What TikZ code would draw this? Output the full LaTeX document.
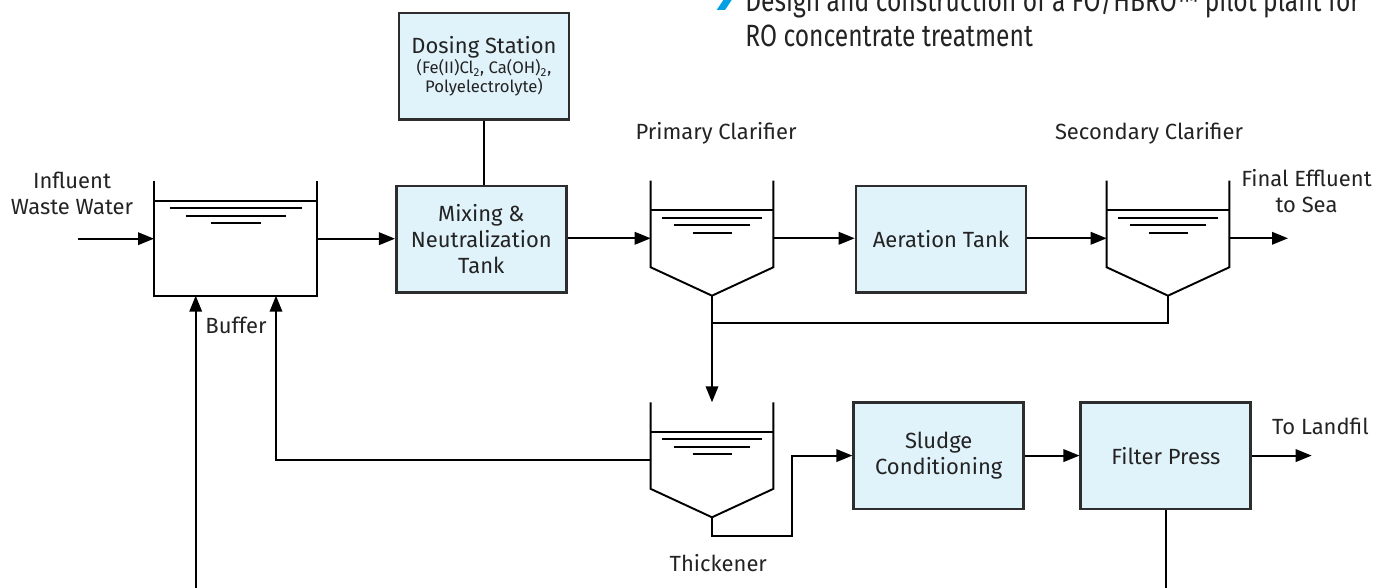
\documentclass[tikz,border=0pt]{standalone}
\usepackage{fontspec}
\setmainfont{Fira Sans}
\newfontfamily\notefamily[FakeStretch=0.8]{Fira Sans}
\usetikzlibrary{positioning,arrows.meta}

\definecolor{boxfill}{RGB}{224,242,250}
\definecolor{boxline}{RGB}{45,45,45}
\definecolor{txt}{RGB}{35,35,35}
\definecolor{bulletblue}{RGB}{0,160,227}

\newcommand{\diagfont}{\fontsize{12.5}{14.8}\selectfont}
\newcommand{\chemfont}{\fontsize{9.5}{11}\selectfont}
\newcommand{\notefont}{\notefamily\fontsize{17.5}{19.9}\selectfont}

\begin{document}
\begin{tikzpicture}[
  unit/.style={rectangle, draw=boxline, line width=1.5pt, fill=boxfill, minimum width=3.4cm, minimum height=2.13cm, align=center, font=\diagfont, text=txt},
  pipe/.style={line width=1.1pt},
  flow/.style={line width=1.1pt, -{Triangle[length=3.2mm,width=2.5mm]}},
  tag/.style={align=center, font=\diagfont, text=txt},
  note/.style={anchor=base west, inner sep=0pt, font=\notefont, text=txt},
  clarifier/.pic={
    \draw[pipe] (-1.226,0) -- (-1.226,-1.732) -- (0,-2.3) -- (1.226,-1.732) -- (1.226,0);
    \draw[pipe] (-1.226,-0.586) -- (1.226,-0.586);
    \draw[pipe] (-0.997,-0.74) -- (0.997,-0.74);
    \draw[pipe] (-0.76,-0.886) -- (0.76,-0.886);
    \draw[pipe] (-0.39,-1.04) -- (0.39,-1.04);
    \coordinate (-top) at (0,0);
    \coordinate (-in) at (-1.226,-1.152);
    \coordinate (-out) at (1.226,-1.152);
    \coordinate (-apex) at (0,-2.3);
  }
]
\useasboundingbox (0,0) rectangle (27.76,11.76);
\clip (0,0) rectangle (27.76,11.76);

% Process units (boxes)
\node[unit] (Dose) at (9.68,10.434) {Dosing Station\\[-3pt]{\chemfont (Fe(II)Cl\textsubscript{2}, Ca(OH)\textsubscript{2},}\\[-4pt]{\chemfont Polyelectrolyte)}};
\node[unit] (Mix) at (9.626,6.974) {Mixing \&\\Neutralization\\Tank};
\node[unit] (Aer) at (18.82,6.974) {Aeration Tank};
\node[unit] (Sludge) at (18.774,2.648) {Sludge\\Conditioning};
\node[unit] (FP) at (23.316,2.648) {Filter Press};

% Buffer tank
\draw[pipe] (3.08,8.146) -- (3.08,5.846) -- (6.334,5.846) -- (6.334,8.146);
\draw[pipe] (3.08,7.746) -- (6.334,7.746);
\draw[pipe] (3.4,7.594) -- (6.04,7.594);
\draw[pipe] (3.72,7.44) -- (5.72,7.44);
\draw[pipe] (4.214,7.294) -- (5.22,7.294);
\coordinate (BF-in) at (3.08,6.986);
\coordinate (BF-out) at (6.334,6.986);
\coordinate (BF-b1) at (3.914,5.846);
\coordinate (BF-b2) at (5.52,5.846);

% Clarifiers and thickener
\pic (PC) at (14.24,8.146) {clarifier};
\pic (SC) at (23.36,8.146) {clarifier};
\pic (TH) at (14.24,3.714) {clarifier};

% Free ends
\coordinate (inlet) at (1.554,6.986);
\coordinate (effluent) at (25.76,6.994);
\coordinate (landfill) at (26.234,2.648);
\coordinate (Jn) at (14.24,5.3);
\coordinate (Tk) at (15.846,1.046);

% Main water line
\draw[flow] (inlet) -- (BF-in);
\draw[flow] (BF-out) -- (BF-out -| Mix.west);
\draw[pipe] (Dose.south) -- (Dose.south |- Mix.north);
\draw[flow] (Mix.east |- PC-in) -- (PC-in);
\draw[flow] (PC-out) -- (PC-out -| Aer.west);
\draw[flow] (Aer.east |- SC-in) -- (SC-in);
\draw[flow] (SC-out) -- (effluent);

% Sludge line
\draw[pipe] (SC-apex) |- (Jn);
\draw[flow] (PC-apex) -- (TH-top);
\draw[flow] (TH-in) -| (BF-b2);
\draw[flow] (TH-apex) |- (Tk) |- (Sludge.west);
\draw[flow] (Sludge) -- (FP);
\draw[flow] (FP) -- (landfill);
\draw[flow] (FP.south) -- ++(0,-2.2) -| (BF-b1);

% Labels
\node[tag] (lbInf) at (1.44,7.9) {Influent\\Waste Water};
\node[tag] (lbPC) at (14.32,9.1) {Primary Clarifier};
\node[tag] (lbSC) at (22.98,9.1) {Secondary Clarifier};
\node[tag] (lbEff) at (26.13,7.948) {Final Effluent\\to Sea};
\node[tag] (lbBuf) at (4.72,5.26) {Buffer};
\node[tag] (lbTh) at (14.366,0.506) {Thickener};
\node[tag] (lbLand) at (26.41,3.226) {To Landfil};

% Page text above the diagram
\fill[bulletblue] (14.334,11.56) -- (14.5,11.56) -- (14.634,11.76) -- (14.5,11.96) -- (14.334,11.96) -- (14.468,11.76) -- cycle;
\node[note] (note1) at (14.9,11.52) {Design and construction of a FO/HBRO™ pilot plant for};
\node[note] (note2) at (14.9,10.826) {RO concentrate treatment};

\end{tikzpicture}
\end{document}
